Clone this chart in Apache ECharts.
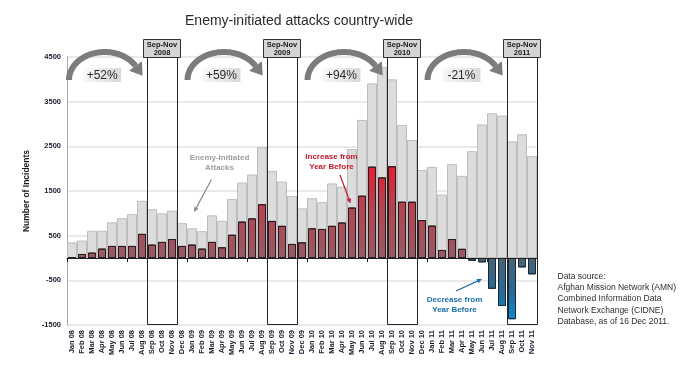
<!DOCTYPE html>
<html><head><meta charset="utf-8">
<script src="https://cdn.jsdelivr.net/npm/echarts@6/dist/echarts.min.js"></script>
<style>html,body{margin:0;padding:0;background:#fff}#c{width:690px;height:381px}</style>
</head><body><div id="c"></div>
<script>
// ---------- data ----------
const months = ['Jan 08','Feb 08','Mar 08','Apr 08','May 08','Jun 08','Jul 08','Aug 08','Sep 08','Oct 08','Nov 08','Dec 08',
  'Jan 09','Feb 09','Mar 09','Apr 09','May 09','Jun 09','Jul 09','Aug 09','Sep 09','Oct 09','Nov 09','Dec 09',
  'Jan 10','Feb 10','Mar 10','Apr 10','May 10','Jun 10','Jul 10','Aug 10','Sep 10','Oct 10','Nov 10','Dec 10',
  'Jan 11','Feb 11','Mar 11','Apr 11','May 11','Jun 11','Jul 11','Aug 11','Sep 11','Oct 11','Nov 11'];
const enemyInitiatedAttacks = [350,390,610,610,800,890,980,1280,1090,1000,1060,780,
  665,600,955,835,1320,1690,1870,2480,1950,1710,1390,1110,
  1340,1250,1670,1595,2440,3090,3910,4280,4000,2980,2640,1970,
  2040,1420,2100,1840,2390,2990,3240,3190,2610,2770,2280];
const changeFromYearBefore = [15,90,120,210,270,270,270,540,300,360,425,270,
  300,210,360,240,520,815,887,1205,830,720,315,350,
  665,650,720,795,1130,1395,2045,1805,2055,1260,1260,850,
  725,180,425,205,-60,-97,-690,-1075,-1370,-210,-365];
const yTickLabels = [-1500,-500,500,1500,2500,3500,4500];
const periodFrom = ['Sep 08','Sep 09','Sep 10','Sep 11'];
const periodTo = ['Nov 08','Nov 09','Nov 10','Nov 11'];
const periodLabels = ['Sep-Nov\n2008','Sep-Nov\n2009','Sep-Nov\n2010','Sep-Nov\n2011'];
const periodChange = ['+52%','+59%','+94%','-21%'];
const titleText = 'Enemy-initiated attacks country-wide';
const sourceText = 'Data source:\nAfghan Mission Network (AMN)\nCombined Information Data\nNetwork Exchange (CIDNE)\nDatabase, as of 16 Dec 2011.';

// ---------- chart ----------
const FONT = '"Liberation Sans", Arial, sans-serif';
const chart = echarts.init(document.getElementById('c'));
const option = {
  animation: false,
  backgroundColor: '#ffffff',
  grid: {left: 67, right: 153, top: 57, bottom: 56, outerBoundsMode: 'none'},
  xAxis: [
    {type: 'category', data: months, position: 'bottom', z: 5,
     axisLine: {onZero: true, lineStyle: {color: '#1e1e1e', width: 1}},
     axisTick: {show: true, length: 4, lineStyle: {color: '#1e1e1e'}},
     axisLabel: {show: false}, splitLine: {show: false}},
    {type: 'category', data: months, position: 'bottom',
     axisLine: {show: false, onZero: false}, axisTick: {show: false}, splitLine: {show: false},
     axisLabel: {rotate: 90, interval: 0, margin: 5, fontSize: 7.5, fontWeight: 'bold', color: '#1a1a2e', fontFamily: FONT}}
  ],
  yAxis: {
    type: 'value', min: -1500, max: 4500, interval: 500,
    name: 'Number of Incidents', nameLocation: 'middle', nameGap: 28,
    nameTextStyle: {fontSize: 8.5, fontWeight: 'bold', color: '#1a1a1a', fontFamily: FONT},
    axisLine: {show: true, lineStyle: {color: '#a8a8a8', width: 1}},
    axisTick: {show: false},
    axisLabel: {margin: 6, fontSize: 7.5, fontWeight: 'bold', color: '#1a1a2e', fontFamily: FONT,
      formatter: v => yTickLabels.includes(v) ? String(v) : ''},
    splitLine: {show: true, lineStyle: {color: ['#e2e2e2', 'rgba(0,0,0,0)'], width: 1.5}}
  },
  series: [
    {type: 'bar', name: 'Enemy-Initiated Attacks', xAxisIndex: 0, data: enemyInitiatedAttacks,
     barWidth: '100%', z: 1, itemStyle: {color: '#dcdcdc', borderColor: '#bdbdbd', borderWidth: 1}},
    {type: 'bar', name: 'Change from Year Before', xAxisIndex: 1, data: changeFromYearBefore,
     barWidth: '80%', z: 3, itemStyle: {color: '#9c5a62', borderColor: '#2a1c1e', borderWidth: 1}}
  ]
};
chart.setOption(option);

// ---------- derived styling / annotations via library scales ----------
const xc = i => chart.convertToPixel({xAxisIndex: 0}, i);
const yc = v => chart.convertToPixel({yAxisIndex: 0}, v);
const band = xc(1) - xc(0);
const yZero = yc(0), yBottom = yc(-1500);
const gridLeft = xc(0) - band / 2;

const redGrad = {type: 'linear', x: 0, y: yc(2100), x2: 0, y2: yZero, global: true,
  colorStops: [{offset: 0, color: '#ea1a30'}, {offset: 0.45, color: '#b4434f'}, {offset: 1, color: '#985a63'}]};
const blueGrad = {type: 'linear', x: 0, y: yZero, x2: 0, y2: yc(-1400), global: true,
  colorStops: [{offset: 0, color: '#4d6272'}, {offset: 0.5, color: '#2c6890'}, {offset: 1, color: '#0a8ad2'}]};

const changeItems = changeFromYearBefore.map(v => ({value: v, itemStyle: {
  color: v >= 0 ? redGrad : blueGrad, borderColor: v >= 0 ? '#2a1c1e' : '#18283a'}}));

const g = [];
const labelTop = 39.5, labelH = 18;
const boxRights = [], labelLefts = [];
periodFrom.forEach((f, k) => {
  const i0 = months.indexOf(f), i1 = months.indexOf(periodTo[k]);
  const xl = Math.round(xc(i0) - band / 2) + 0.5, xr = Math.round(xc(i1) + band / 2) + 0.5;
  const cx = (xl + xr) / 2 - 1;
  boxRights.push(xr); labelLefts.push(cx - 18.5);
  g.push({type: 'rect', z: 100, shape: {x: xl, y: labelTop + labelH, width: xr - xl, height: Math.round(yBottom) - 0.5 - (labelTop + labelH)},
    style: {fill: 'rgba(0,0,0,0)', stroke: '#262626', lineWidth: 1}});
  g.push({type: 'rect', z: 101, shape: {x: Math.round(cx - 18.5) + 0.5, y: labelTop, width: 37, height: labelH},
    style: {fill: '#d4d4d4', stroke: '#303030', lineWidth: 1}});
  g.push({type: 'text', z: 102, x: cx + 0.5, y: labelTop + labelH / 2 + 0.5,
    style: {text: periodLabels[k], fill: '#1a1a1a', font: 'bold 7.5px ' + FONT, align: 'center', verticalAlign: 'middle',
      textAlign: 'center', textVerticalAlign: 'middle', lineHeight: 8}});
});

// curved period arrows
periodChange.forEach((txt, k) => {
  const s = k === 0 ? gridLeft - 1 : boxRights[k - 1] + 7;
  const e = labelLefts[k] - 1;
  const x0 = s + 3, cy = 80, ry = 28;
  const rx = (e - 6.5 - x0) / 1.866, cx = x0 + rx;
  const pts = [];
  for (let t = Math.PI; t >= Math.PI / 6 - 1e-6; t -= Math.PI / 60) pts.push([cx + rx * Math.cos(t), cy - ry * Math.sin(t)]);
  const end = pts[pts.length - 1];
  let dx = rx * 0.5, dy = ry * 0.866; const dl = Math.hypot(dx, dy); dx /= dl; dy /= dl;
  const tip = [end[0] + dx * 12, end[1] + dy * 12];
  const hw = 8;
  g.push({type: 'polyline', z: 110, shape: {points: pts}, style: {stroke: '#7c7c7c', lineWidth: 6, fill: null}});
  g.push({type: 'polygon', z: 110, shape: {points: [tip, [end[0] - dy * hw, end[1] + dx * hw], [end[0] + dy * hw, end[1] - dx * hw]]},
    style: {fill: '#7c7c7c'}});
  const bx = cx - 2.5;
  g.push({type: 'rect', z: 111, shape: {x: bx - 19, y: 68, width: 38, height: 14},
    style: {fill: {type: 'linear', x: 0, y: 0, x2: 1, y2: 1, colorStops: [{offset: 0, color: '#fbfbfb'}, {offset: 1, color: '#d6d6d6'}]}}});
  g.push({type: 'text', z: 112, x: bx, y: 75.5,
    style: {text: txt, fill: '#2a2a2a', font: '12px ' + FONT, align: 'center', verticalAlign: 'middle', textAlign: 'center', textVerticalAlign: 'middle'}});
});

// thin annotation arrows
function thinArrow(x1, y1, x2, y2, color) {
  const a = Math.atan2(y2 - y1, x2 - x1), L = 5, W = 2.3;
  const bx = x2 - L * Math.cos(a), by = y2 - L * Math.sin(a);
  g.push({type: 'line', z: 120, shape: {x1, y1, x2: bx, y2: by}, style: {stroke: color, lineWidth: 1.2}});
  g.push({type: 'polygon', z: 120, shape: {points: [[x2, y2], [bx - W * Math.sin(a), by + W * Math.cos(a)], [bx + W * Math.sin(a), by - W * Math.cos(a)]]},
    style: {fill: color}});
}
function note(x, y, text, color) {
  g.push({type: 'text', z: 120, x, y, style: {text, fill: color, font: 'bold 8px ' + FONT, align: 'center', verticalAlign: 'middle',
    textAlign: 'center', textVerticalAlign: 'middle', lineHeight: 10}});
}
note(219.5, 162.5, 'Enemy-Initiated\nAttacks', '#9c9c9c');
thinArrow(211.5, 179.5, 194, 212, '#8a8a8a');
note(331.5, 161.7, 'Increase from\nYear Before', '#c41a30');
thinArrow(340, 175, 350.5, 203.5, '#c41a30');
note(454.5, 304.3, 'Decrease from\nYear Before', '#1a6ea8');
thinArrow(456, 291, 482, 279, '#1a6ea8');

// title & source
g.push({type: 'text', z: 120, x: 299, y: 21.5, style: {text: titleText, fill: '#2a2a2a', font: '14px ' + FONT,
  align: 'center', verticalAlign: 'middle', textAlign: 'center', textVerticalAlign: 'middle'}});
g.push({type: 'text', z: 120, x: 557.5, y: 271, style: {text: sourceText, fill: '#2e2e2e', font: '8.5px ' + FONT,
  align: 'left', verticalAlign: 'top', textAlign: 'left', textVerticalAlign: 'top', lineHeight: 11.2}});

chart.setOption({series: [{}, {data: changeItems}], graphic: {elements: g}});
</script></body></html>
